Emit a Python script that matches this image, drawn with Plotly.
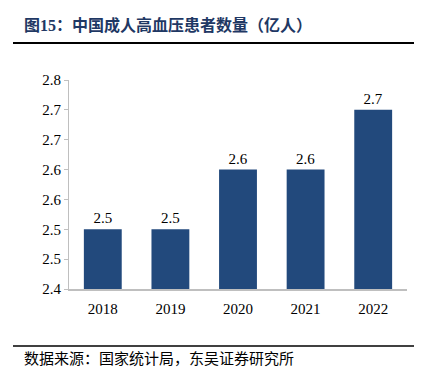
import plotly.graph_objects as go

years = ["2018", "2019", "2020", "2021", "2022"]
patients = [2.5, 2.5, 2.6, 2.6, 2.7]
y_tickvals = [2.40, 2.45, 2.50, 2.55, 2.60, 2.65, 2.70, 2.75]
y_ticktext = ["2.4", "2.5", "2.5", "2.6", "2.6", "2.7", "2.7", "2.8"]
bar_labels = [f"{v:.1f}" for v in patients]

title_text = "图15：中国成人高血压患者数量（亿人）"
source_text = "数据来源：国家统计局，东吴证券研究所"

serif = "Liberation Serif, Times New Roman, Noto Sans CJK SC, serif"

fig = go.Figure()
fig.add_trace(go.Bar(
    x=years, y=patients,
    marker=dict(color="#22497C", line=dict(width=0)),
    text=bar_labels, textposition="outside", cliponaxis=False,
    textfont=dict(family=serif, size=15, color="#000000"),
    hoverinfo="skip",
))

fig.update_layout(
    width=426, height=378,
    margin=dict(l=69, r=19, t=80, b=89),
    paper_bgcolor="white", plot_bgcolor="white",
    bargap=0.44, showlegend=False,
    xaxis=dict(
        type="category", showgrid=False, showline=True, linecolor="#BFBFBF", linewidth=1.5,
        ticks="", ticklabelstandoff=5, tickfont=dict(family=serif, size=15, color="#000000"),
    ),
    yaxis=dict(
        range=[2.4, 2.75], tickvals=y_tickvals, ticktext=y_ticktext,
        showgrid=False, zeroline=False, showline=True, linecolor="#BFBFBF", linewidth=1,
        ticks="outside", ticklen=4, tickcolor="#BFBFBF",
        tickfont=dict(family=serif, size=15, color="#000000"),
    ),
    shapes=[
        dict(type="line", xref="paper", yref="paper", x0=-56/338, x1=345/338,
             y0=(378 - 43 - 89) / 209, y1=(378 - 43 - 89) / 209,
             line=dict(color="#000000", width=2)),
        dict(type="line", xref="paper", yref="paper", x0=-56/338, x1=345/338,
             y0=(378 - 346 - 89) / 209, y1=(378 - 346 - 89) / 209,
             line=dict(color="#000000", width=1.5)),
    ],
    annotations=[
        dict(text="<b>" + title_text + "</b>", xref="paper", yref="paper",
             x=-47/338, y=(378 - 25 - 89) / 209, xanchor="left", yanchor="middle",
             showarrow=False, font=dict(family=serif, size=16, color="#1F3864")),
        dict(text=source_text, xref="paper", yref="paper",
             x=-47/338, y=(378 - 359 - 89) / 209, xanchor="left", yanchor="middle",
             showarrow=False, font=dict(family=serif, size=15, color="#000000")),
    ],
)

fig.write_html("out.html",
               config={"displayModeBar": False},
               post_script="document.body.style.margin='0';document.body.style.overflow='hidden';")
